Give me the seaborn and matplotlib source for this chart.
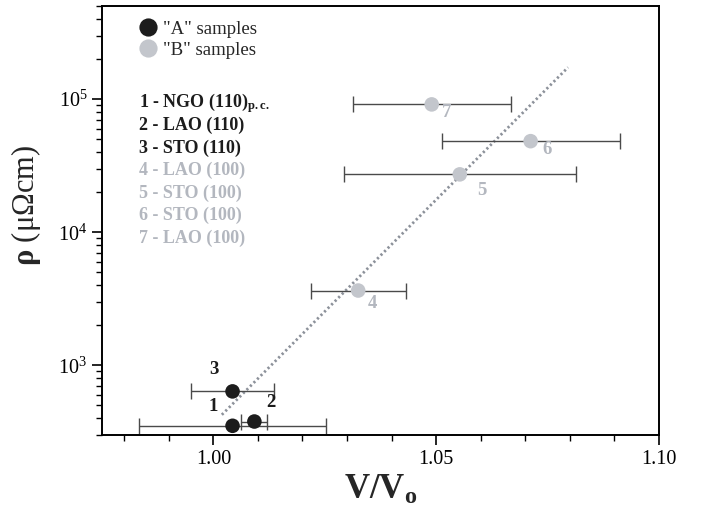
import matplotlib
matplotlib.use("Agg")
import matplotlib.pyplot as plt
import seaborn as sns
import pandas as pd

# values
sample_ids = ["1", "2", "3", "4", "5", "6", "7"]
groups = ["A", "A", "A", "B", "B", "B", "B"]
v_ratio = [1.0043, 1.0092, 1.0043, 1.0325, 1.0553, 1.0712, 1.0490]
rho = [352, 379, 638, 3650, 27200, 48300, 91200]
v_err = [0.021, 0.0029, 0.0094, 0.0107, 0.026, 0.020, 0.0177]
fit_x = [1.0019, 1.0796]
fit_y = [426, 173000]
sample_names = ["1 - NGO (110)$_{\\mathbf{p.c.}}$", "2 - LAO (110)", "3 - STO (110)",
                "4 - LAO (100)", "5 - STO (100)", "6 - STO (100)", "7 - LAO (100)"]
legend_names = {"A": '"A" samples', "B": '"B" samples'}

df = pd.DataFrame({"id": sample_ids, "group": groups, "V": v_ratio,
                   "rho": rho, "err": v_err})

# styling
sns.set_theme(style="ticks")
plt.rcParams["font.family"] = ["Liberation Serif", "DejaVu Serif"]
plt.rcParams["mathtext.fontset"] = "custom"
plt.rcParams["mathtext.rm"] = "Liberation Serif"
plt.rcParams["mathtext.bf"] = "Liberation Serif:bold"
plt.rcParams["mathtext.it"] = "Liberation Serif:italic"

black = "#1c1c1c"
grey_pt = "#c3c6cc"
grey_txt = "#b3b7bf"
pal = {"A": black, "B": grey_pt}
txt_col = {"A": black, "B": grey_txt}
# label offsets in pixels (dx, dy)
offsets = [(-19, 19), (16, 19), (-19, 22), (14, -13), (22, -16), (16, -8), (15, -8)]

fig, ax = plt.subplots(figsize=(7.01, 5.21), dpi=100)
fig.subplots_adjust(left=0.1455, right=0.940, top=0.9885, bottom=0.165)

ax.plot(fit_x, fit_y, linestyle=(0, (0.8, 1.0)), color="#8c919a", lw=2, zorder=1)
ax.errorbar(df["V"], df["rho"], xerr=df["err"], fmt="none", ecolor="#4a4a4a",
            elinewidth=1, capsize=5.5, capthick=1, zorder=2)
sns.scatterplot(data=df, x="V", y="rho", hue="group", palette=pal, s=110,
                edgecolor="none", ax=ax, zorder=3, legend=True)

for (i, row), (dx, dy) in zip(df.iterrows(), offsets):
    ax.annotate(row["id"], (row["V"], row["rho"]), xytext=(dx, dy),
                textcoords="offset pixels", ha="center", va="center",
                fontsize=13.5, fontweight="bold", color=txt_col[row["group"]])

ax.set_yscale("log")
ax.set_xlim(0.975, 1.10)
ax.set_ylim(300, 5e5)
ax.set_xticks([1.00, 1.05, 1.10])
ax.set_xticklabels(["1.00", "1.05", "1.10"])
ax.set_xticks([0.98, 0.99, 1.01, 1.02, 1.03, 1.04, 1.06, 1.07, 1.08, 1.09], minor=True)
ax.tick_params(axis="both", which="major", direction="out", length=7, width=1.2,
               labelsize=14.5, color="black", labelcolor="black")
ax.tick_params(axis="both", which="minor", direction="out", length=4, width=1,
               color="black")
for s in ax.spines.values():
    s.set_color("black")
    s.set_linewidth(1.4)

ax.set_xlabel("$\\mathbf{V/V_o}$", fontsize=25, labelpad=4)
ax.set_ylabel("$\\mathbf{\\rho}$ (μΩcm)", fontsize=22)
ax.yaxis.set_label_coords(-0.106, 0.536)

handles, labs = ax.get_legend_handles_labels()
ax.legend(handles, [legend_names[l] for l in labs], loc="upper left",
          bbox_to_anchor=(0.018, 1.005), frameon=False, fontsize=13.5,
          handletextpad=-0.2, labelspacing=0.2, markerscale=1.25)

for k, (name, g) in enumerate(zip(sample_names, groups)):
    ax.text(0.066, 0.774 - k * 0.0524, name, transform=ax.transAxes,
            ha="left", va="center", fontsize=13, fontweight="bold",
            color=txt_col[g])

fig.savefig("out.png", dpi=100)
